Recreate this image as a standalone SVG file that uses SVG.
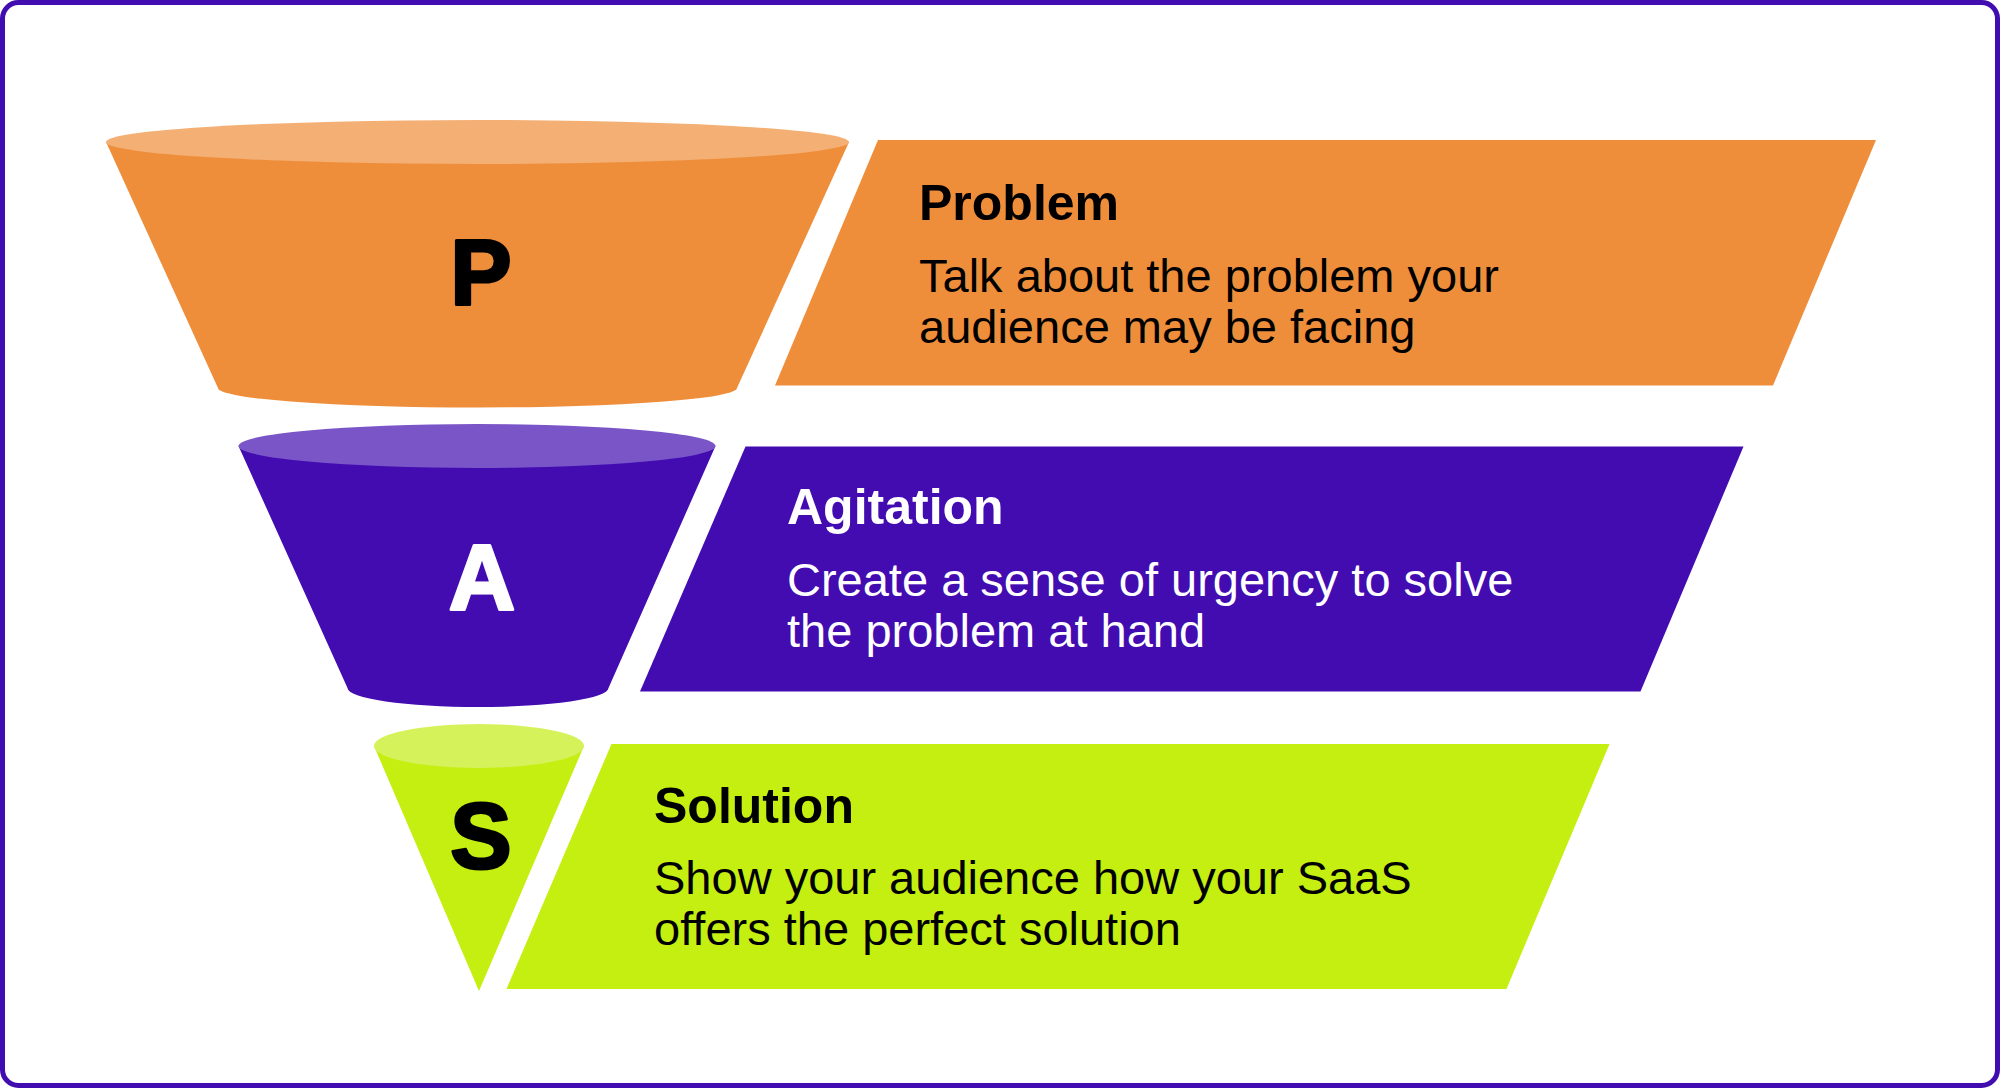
<svg xmlns="http://www.w3.org/2000/svg" width="2000" height="1088" viewBox="0 0 2000 1088">
<style>
.frame{fill:#ffffff;stroke:#410DB1;stroke-width:5}
.or{fill:#EF8E3A}.or-l{fill:#F3AF74}
.pu{fill:#420CB1}.pu-l{fill:#7A55C8}
.gr{fill:#C5EE11}.gr-l{fill:#D6F25A}
.letter{font-family:"Liberation Sans",Arial,sans-serif;font-weight:bold;font-size:92px;text-anchor:middle;stroke-width:3;stroke-linejoin:round}
.head{font-family:"Liberation Sans",Arial,sans-serif;font-weight:bold;font-size:50px}
.body{font-family:"Liberation Sans",Arial,sans-serif;font-size:47px}
.dark{fill:#000000}.light{fill:#ffffff}
.letter.dark{stroke:#000000}.letter.light{stroke:#ffffff}
</style>
<rect class="frame" x="2.5" y="2.5" width="1995" height="1083" rx="16"/>

<g id="cup-p">
<path class="or" d="M106,142 L218,388 A259.5,19.5 0 0 0 737,388 L849,142 Z"/>
<ellipse class="or-l" cx="477.5" cy="142" rx="371.5" ry="22"/>
<text class="letter dark" x="481" y="305">P</text>
</g>
<g id="banner-problem">
<polygon class="or" points="878,140 1876,140 1773,385.5 775,385.5"/>
<text class="head dark" x="919" y="220">Problem</text>
<text class="body dark" x="919" y="292">Talk about the problem your</text>
<text class="body dark" x="919" y="343">audience may be facing</text>
</g>

<g id="cup-a">
<path class="pu" d="M238.5,446 L347.5,688 A130.5,19 0 0 0 608.5,688 L715.5,446 Z"/>
<ellipse class="pu-l" cx="477" cy="446" rx="238.5" ry="22"/>
<text class="letter light" x="482" y="609">A</text>
</g>
<g id="banner-agitation">
<polygon class="pu" points="745.5,446.5 1743.5,446.5 1640.5,691.5 640,691.5"/>
<text class="head light" x="787" y="524">Agitation</text>
<text class="body light" x="787" y="596">Create a sense of urgency to solve</text>
<text class="body light" x="787" y="647">the problem at hand</text>
</g>

<g id="cup-s">
<path class="gr" d="M374,746 L479,991 L584,746 Z"/>
<ellipse class="gr-l" cx="479" cy="746" rx="105" ry="22"/>
<text class="letter dark" x="481" y="868">S</text>
</g>
<g id="banner-solution">
<polygon class="gr" points="611.5,744 1609.5,744 1506.5,989 506.5,989"/>
<text class="head dark" x="654" y="823">Solution</text>
<text class="body dark" x="654" y="894">Show your audience how your SaaS</text>
<text class="body dark" x="654" y="945">offers the perfect solution</text>
</g>
</svg>
